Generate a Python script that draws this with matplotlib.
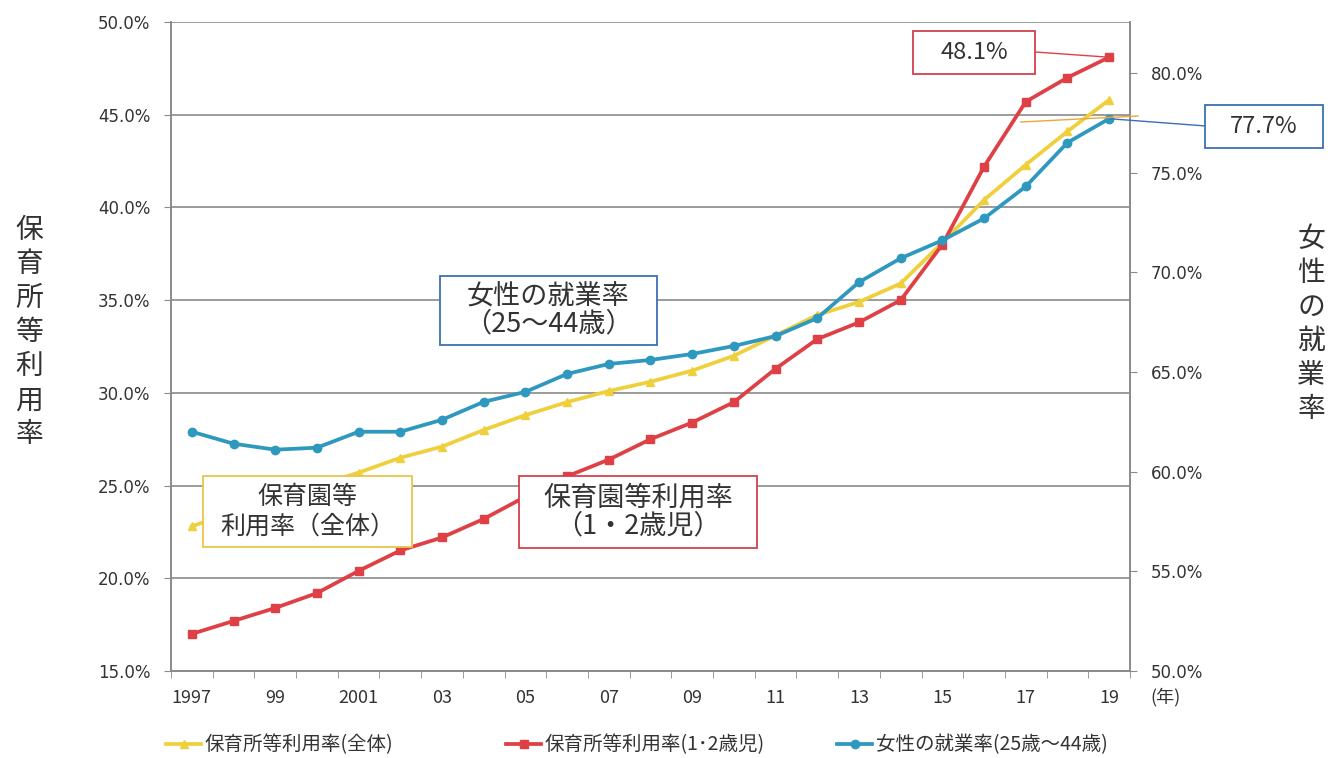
import matplotlib
matplotlib.use("Agg")
import matplotlib.pyplot as plt
from matplotlib.patches import Rectangle
from matplotlib.lines import Line2D

plt.rcParams['font.family'] = ['Noto Sans CJK JP', 'DejaVu Sans']

# data
years = list(range(1997, 2020))
rate_all = [22.8, 23.6, 24.3, 25.0, 25.7, 26.5, 27.1, 28.0, 28.8, 29.5, 30.1, 30.6,
            31.2, 32.0, 33.1, 34.2, 34.9, 35.9, 38.1, 40.4, 42.3, 44.1, 45.8]
rate_12 = [17.0, 17.7, 18.4, 19.2, 20.4, 21.5, 22.2, 23.2, 24.4, 25.5, 26.4, 27.5,
           28.4, 29.5, 31.3, 32.9, 33.8, 35.0, 38.0, 42.2, 45.7, 47.0, 48.1]
employ = [62.0, 61.4, 61.1, 61.2, 62.0, 62.0, 62.6, 63.5, 64.0, 64.9, 65.4, 65.6,
          65.9, 66.3, 66.8, 67.7, 69.5, 70.7, 71.6, 72.7, 74.3, 76.5, 77.7]
xlabels_years = [1997, 1999, 2001, 2003, 2005, 2007, 2009, 2011, 2013, 2015, 2017, 2019]
xlabels = ["1997", "99", "2001", "03", "05", "07", "09", "11", "13", "15", "17", "19"]
left_ticks = [15, 20, 25, 30, 35, 40, 45, 50]
right_ticks = [50, 55, 60, 65, 70, 75, 80]

names = ["保育所等利用率(全体)", "保育所等利用率(1･2歳児)", "女性の就業率(25歳〜44歳)"]

YELLOW = "#EFD03C"
RED = "#DE4046"
BLUE = "#2E98BF"
GRID = "#8a8a8a"
TXT = "#333333"

W, H = 1333, 758
fig = plt.figure(figsize=(W / 100, H / 100), dpi=100)
ax = fig.add_axes([171 / W, 1 - 671 / H, (1130 - 171) / W, (671 - 22) / H])
ax2 = ax.twinx()

l1, = ax.plot(years, rate_all, color=YELLOW, lw=2.7, marker="^", ms=6, zorder=3)
l2, = ax.plot(years, rate_12, color=RED, lw=2.7, marker="s", ms=6, zorder=4)
l3, = ax2.plot(years, employ, color=BLUE, lw=2.7, marker="o", ms=6, zorder=5)

ax.set_xlim(1996.5, 2019.5)
ax.set_ylim(15, 50)
ax2.set_ylim(50, 82.55)

ax.set_yticks(left_ticks)
ax.set_yticklabels(["%.1f%%" % v for v in left_ticks], family="DejaVu Sans", fontsize=12, color=TXT)
ax2.set_yticks(right_ticks)
ax2.set_yticklabels(["%.1f%%" % v for v in right_ticks], family="DejaVu Sans", fontsize=12, color=TXT)
ax.yaxis.grid(True, color=GRID, lw=1.2)
ax.set_axisbelow(True)

ax.set_xticks(xlabels_years)
ax.set_xticklabels(xlabels, fontsize=13, color=TXT)
ax.set_xticks([y - 0.5 for y in years] + [2019.5], minor=True)
ax.tick_params(axis="x", which="major", length=0, pad=13)
ax.tick_params(axis="x", which="minor", length=5, color=GRID, direction="out")
ax.tick_params(axis="y", length=5, color=GRID, pad=10)
ax2.tick_params(axis="y", length=5, color=GRID, pad=10)

for a in (ax, ax2):
    a.spines["top"].set_visible(False)
    for s in ("left", "right", "bottom"):
        a.spines[s].set_color(GRID)
        a.spines[s].set_linewidth(1.2)

# axis titles (stacked vertically)
fig.text(29 / W, 1 - 332 / H, "\n".join("保育所等利用率"), ha="center", va="center",
         fontsize=20, linespacing=1.18, color=TXT)
fig.text(1311 / W, 1 - 324 / H, "\n".join("女性の就業率"), ha="center", va="center",
         fontsize=20, linespacing=1.18, color=TXT)
fig.text(1166 / W, 1 - 697 / H, "(年)", ha="center", va="center", fontsize=13, color=TXT)


def to_fig(a, x, y):
    px, py = a.transData.transform((x, y))
    return fig.transFigure.inverted().transform((px, py))


def box(x0, y0, x1, y1, text, ec, fs, ls=1.2):
    fig.add_artist(Rectangle((x0 / W, 1 - y1 / H), (x1 - x0) / W, (y1 - y0) / H,
                             transform=fig.transFigure, fc="white", ec=ec, lw=1.3, zorder=5))
    fig.text((x0 + x1) / 2 / W, 1 - (y0 + y1) / 2 / H, text, ha="center", va="center",
             fontsize=fs, color=TXT, linespacing=ls, zorder=6)


# leader lines
fx, fy = to_fig(ax, years[-1], rate_12[-1])
fig.add_artist(Line2D([1035 / W, fx], [1 - 52 / H, fy], transform=fig.transFigure, color=RED, lw=1, zorder=4))
fx, fy = to_fig(ax2, years[-1], employ[-1])
fig.add_artist(Line2D([1206 / W, fx], [1 - 126 / H, fy], transform=fig.transFigure, color="#3B6FB0", lw=1, zorder=4))
fig.add_artist(Line2D([1021 / W, 1138 / W], [1 - 122 / H, 1 - 116 / H], transform=fig.transFigure,
                      color="#E9A93A", lw=1, zorder=4))

box(440, 276, 657, 345, "女性の就業率\n（25〜44歳）", "#3B6FB0", 19.5, 1.02)
box(203, 476, 412, 547, "保育園等\n利用率（全体）", "#E6C64A", 18, 1.2)
box(519, 476, 757, 548, "保育園等利用率\n（1・2歳児）", "#D2404E", 19.5, 1.05)
box(913, 31, 1035, 74, "48.1%", "#D2404E", 17)
box(1205, 105, 1323, 148, "77.7%", "#3B6FB0", 17)

# legend entries placed one by one
for line, name, xl in zip([l1, l2, l3], names, [166, 506, 837]):
    fig.legend([line], [name], loc="center left", bbox_to_anchor=(xl / W, 1 - 745 / H),
               frameon=False, fontsize=14, handlelength=1.8, handletextpad=0.2,
               borderaxespad=0, borderpad=0, labelcolor=TXT)

fig.savefig("out.png", dpi=100)
